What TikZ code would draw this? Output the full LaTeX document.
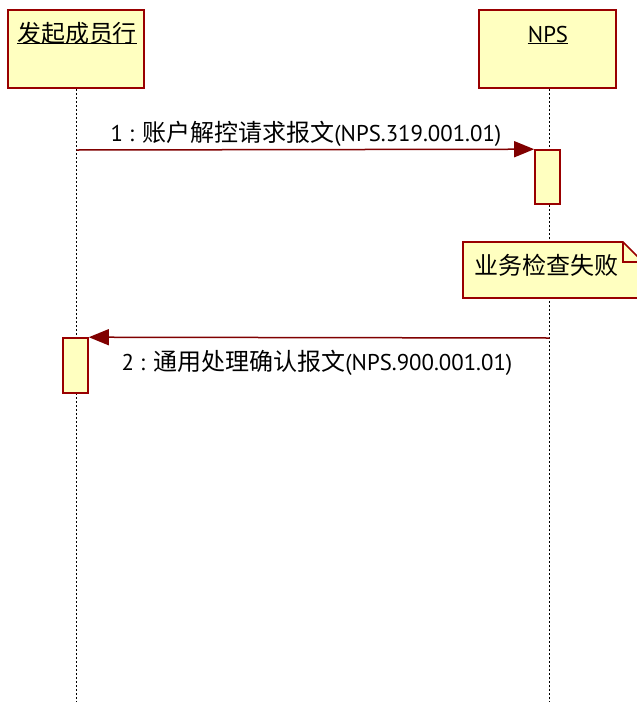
\documentclass[tikz,border=0pt]{standalone}
\usepackage{fontspec}
\setmainfont{PT Sans}
\newfontfamily\cjk{Noto Sans CJK SC}
\usetikzlibrary{arrows.meta}
\definecolor{boxfill}{RGB}{255,255,192}
\definecolor{boxline}{RGB}{153,0,0}
\definecolor{msgline}{RGB}{128,0,0}
\newcommand\lat{\fontsize{22.8pt}{26pt}\selectfont}
\newcommand\zh[1]{{\cjk\fontsize{24pt}{26pt}\selectfont #1}}
\tikzset{
  objbox/.style={draw=boxline, fill=boxfill, line width=1.8pt, inner sep=0pt},
  actbox/.style={draw=boxline, fill=boxfill, line width=1.6pt, inner sep=0pt, minimum width=25pt},
  lifeline/.style={line width=1.6pt, dash pattern=on 1.6pt off 2.4pt},
  msg/.style={draw=msgline, line width=1.5pt, -{Triangle[length=20pt,width=16pt,fill=msgline]}},
  txt/.style={inner sep=0pt, font=\lat},
}
\begin{document}
\begin{tikzpicture}[x=1pt,y=-1pt]
\useasboundingbox (0,0) rectangle (637,702);
\fill[white] (0,0) rectangle (637,702);
\clip (0,0) rectangle (637,702);
% lifeline ends
\coordinate (aend) at (76.5,702);
\coordinate (bend) at (549.5,702);
% object boxes
\node[objbox, minimum width=136pt, minimum height=78pt] (a) at (76,49) {};
\node[objbox, minimum width=137pt, minimum height=78pt] (b) at (547.5,49) {};
% lifelines
\draw[lifeline] ([xshift=0.5pt]a.south) -- (aend);
\draw[lifeline] ([xshift=2pt]b.south) -- (bend);
% titles
\node[txt, anchor=base] (at) at (77,42) {\zh{发起成员行}};
\draw[line width=1.6pt] ([yshift=-1.5pt]at.base west) -- ([yshift=-1.5pt]at.base east);
\node[txt, anchor=base] (bt) at (548,42) {NPS};
\draw[line width=1.6pt] ([yshift=-1.5pt]bt.base west) -- ([yshift=-1.5pt]bt.base east);
% activations
\node[actbox, minimum height=54pt] (act1) at (547.5,177) {};
\node[actbox, minimum height=55pt] (act2) at (75.5,365.5) {};
% message 1
\coordinate (m1s) at (76.5,150);
\draw[msg] (m1s) -- (act1.north west);
\node[txt, anchor=base] (l1) at (306,141) {1 : \zh{账户解控请求报文}(NPS.319.001.01)};
% note
\draw[draw=boxline, fill=boxfill, line width=1.6pt]
  (463,242) -- (623,242) -- (643,262) -- (643,298) -- (463,298) -- cycle;
\draw[draw=boxline, line width=1.6pt] (623,242) -- (623,262) -- (643,262);
\node[txt, anchor=base] (nt) at (546,274) {\zh{业务检查失败}};
% message 2
\coordinate (m2s) at (549.5,338);
\draw[msg] (m2s) -- (act2.north east);
\node[txt, anchor=base] (l2) at (317,370) {2 : \zh{通用处理确认报文}(NPS.900.001.01)};
\end{tikzpicture}
\end{document}
